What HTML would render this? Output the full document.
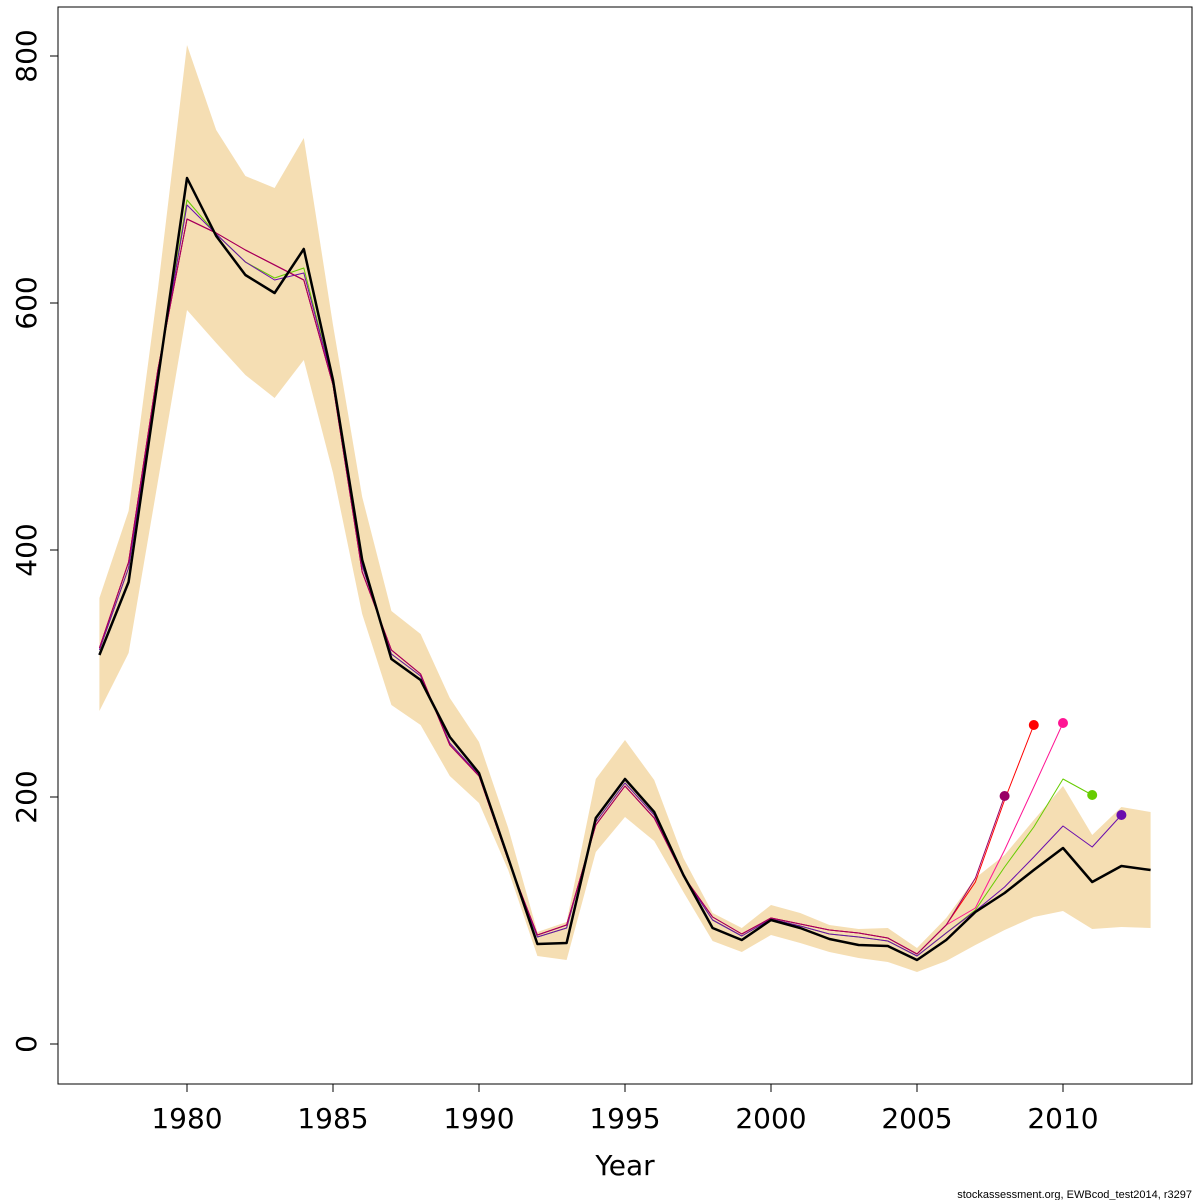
<!DOCTYPE html>
<html><head><meta charset="utf-8"><style>
html,body{margin:0;padding:0;background:#fff;}
svg{display:block;font-family:"DejaVu Sans","Liberation Sans",sans-serif;}
</style></head><body>
<svg id="s" width="1200" height="1200" xmlns="http://www.w3.org/2000/svg">
<rect x="0" y="0" width="1200" height="1200" fill="#fff"/>
<polygon id="band" fill="#f5deb3" stroke="none"/>
<g id="lines"></g>
<rect x="58" y="7" width="1134" height="1077" fill="none" stroke="#000" stroke-width="1"/>
<g id="axes" stroke="#000" stroke-width="1"></g>
<g id="labels" font-size="28" fill="#000"></g>
<text x="625" y="1175" font-size="28" text-anchor="middle">Year</text>
<text x="1192" y="1198" font-size="11" text-anchor="end" style="font-family:'Liberation Sans',sans-serif">stockassessment.org, EWBcod_test2014, r3297</text>
</svg>
<script>
var X=function(y){return 187+(y-1980)*29.2;};
var up=[598,511,290,45,130,176,188,138,325,497,611,634,698,742,828,932,922,779,740,780,858,913,928,905,913,925,929,928,948,918,878,855,820,786,835,807,812];
var lo=[711,653,482,310,343,375,398,360,473,614,705,725,776,803,870,956,960,852,817,841,892,941,952,935,943,952,958,962,972,961,945,930,917,911,929,927,928];
var blk=[655,582,380,178,236,275,293,249,380,560,659,680,737,773,858,944,943,818,779,812,875,928,940,920,928,939,945,946,960,940,912,893,870,848,882,866,870];
var pts=[];for(var i=0;i<up.length;i++)pts.push(X(1977+i)+","+up[i]);
for(var i=lo.length-1;i>=0;i--)pts.push(X(1977+i)+","+lo[i]);
document.getElementById("band").setAttribute("points",pts.join(" "));
var ns="http://www.w3.org/2000/svg",L=document.getElementById("lines");
function line(arr,col,w){var p=[];for(var i=0;i<arr.length;i++)p.push(X(1977+i)+","+arr[i]);
var e=document.createElementNS(ns,"polyline");e.setAttribute("points",p.join(" "));e.setAttribute("fill","none");e.setAttribute("stroke",col);e.setAttribute("stroke-width",w);e.setAttribute("stroke-linejoin","round");L.appendChild(e);}
function dot(yr,y,col){var c=document.createElementNS(ns,"circle");c.setAttribute("cx",X(yr));c.setAttribute("cy",y);c.setAttribute("r",5);c.setAttribute("fill",col);L.appendChild(c);}
var baseA=[650,568,375,200,234,262,278,268,382,566,654,676,743,775,860,937,928,822,783,815,876,920,936,919,926,934,937,941,956,933];
var baseB=[650,568,375,205,234,262,280,273,382,566,654,676,743,775,860,937,928,822,783,815,876,920,936,919,926,934,937,941,956,933];
var baseR=[648,562,370,219,233,250,265,280,385,572,650,674,745,776,860,935,925,825,786,818,876,917,934,918,924,930,933,938,954,925];
function retro(base,tail,col){var a=base.concat(tail);line(a,col,1);dot(1977+a.length-1,a[a.length-1],col);}
retro(baseA,[910,867,827,779,795],"#66cc00");
retro(baseB,[911,887,857,826,847,815],"#6a0dad");
retro(baseR,[908,850,787,723],"#ff1493");
retro(baseR,[882,800,725],"#ff0000");
retro(baseR,[878,796],"#990066");
line(blk,"#000",2.5);
var A=document.getElementById("axes"),T=document.getElementById("labels");
for(var v=0;v<=800;v+=200){var y=1044-v*1.235;
var l=document.createElementNS(ns,"line");l.setAttribute("x1",50);l.setAttribute("x2",58);l.setAttribute("y1",y);l.setAttribute("y2",y);A.appendChild(l);
var t=document.createElementNS(ns,"text");t.setAttribute("transform","translate(36,"+y+") rotate(-90)");t.setAttribute("text-anchor","middle");t.textContent=v;T.appendChild(t);}
var l=document.createElementNS(ns,"line");l.setAttribute("x1",58);l.setAttribute("x2",58);l.setAttribute("y1",56);l.setAttribute("y2",1044);A.appendChild(l);
for(var yr=1980;yr<=2010;yr+=5){var x=X(yr);
var l=document.createElementNS(ns,"line");l.setAttribute("x1",x);l.setAttribute("x2",x);l.setAttribute("y1",1084);l.setAttribute("y2",1092);A.appendChild(l);
var t=document.createElementNS(ns,"text");t.setAttribute("x",x);t.setAttribute("y",1128);t.setAttribute("text-anchor","middle");t.textContent=yr;T.appendChild(t);}
</script>
</body></html>
